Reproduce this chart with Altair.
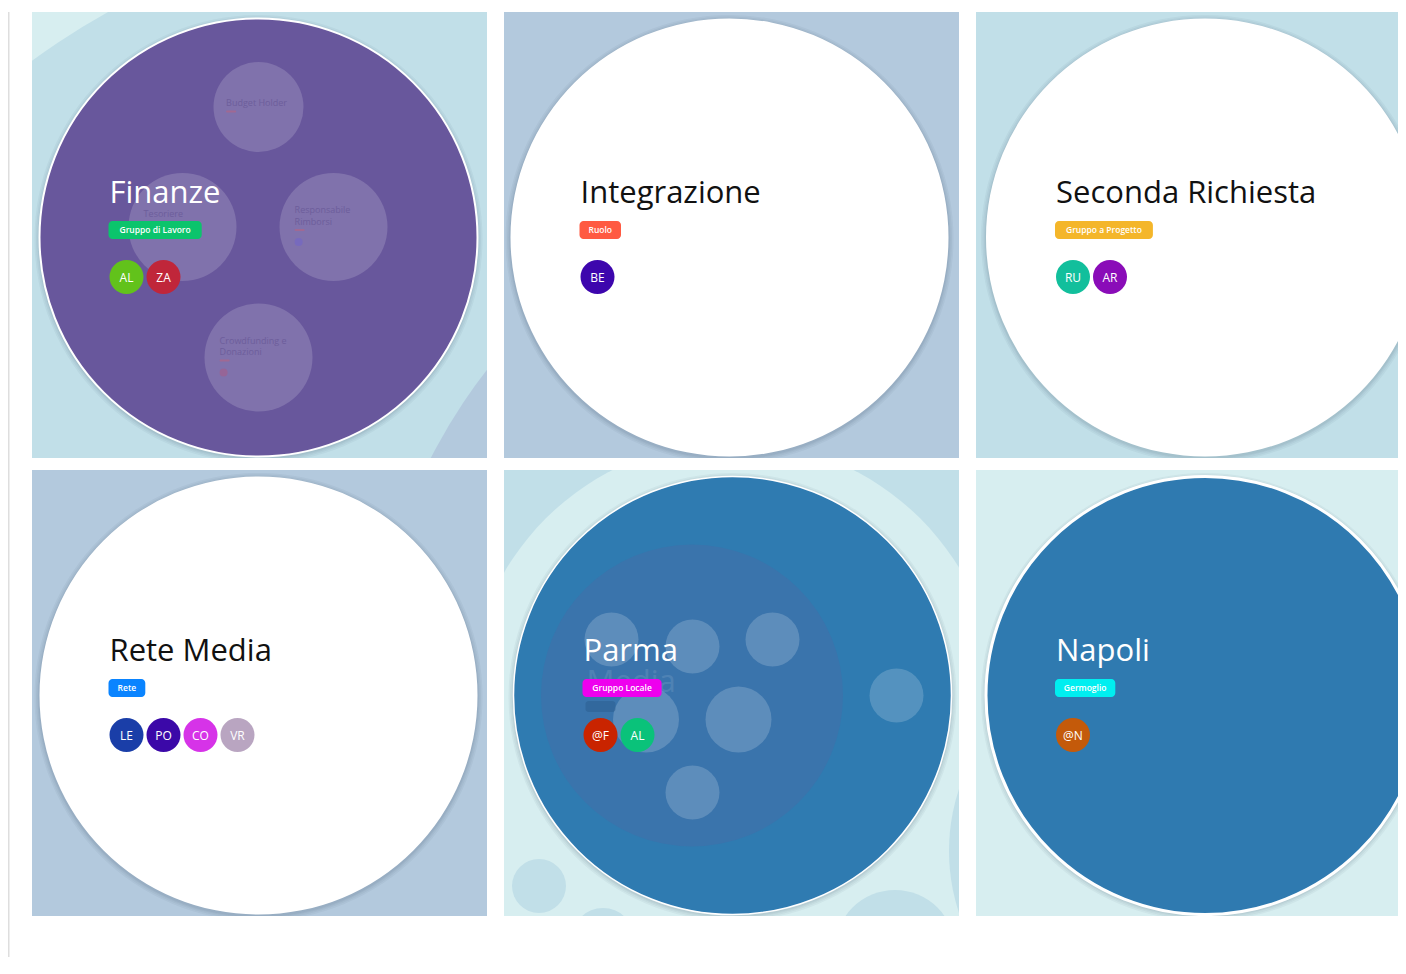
import math
import altair as alt
import pandas as pd

# ---------------- values ----------------
titles = ["Finanze", "Integrazione", "Seconda Richiesta", "Rete Media", "Parma", "Napoli"]
tags = ["Gruppo di Lavoro", "Ruolo", "Gruppo a Progetto", "Rete", "Gruppo Locale", "Germoglio"]
tag_colors = ["#0bc46c", "#ff5a42", "#f4b62a", "#0a84ff", "#ee00ee", "#00eef0"]
circle_fills = ["#68579c", "#ffffff", "#ffffff", "#ffffff", "#2f7bb1", "#2f7ab0"]
title_colors = ["#ffffff", "#111111", "#111111", "#111111", "#ffffff", "#ffffff"]
panel_bgs = ["#d7eef0", "#b3c9dd", "#c1dfe8", "#b3c9dd", "#c1dfe8", "#d7eef0"]
members = [["AL", "ZA"], ["BE"], ["RU", "AR"], ["LE", "PO", "CO", "VR"], ["@F", "AL"], ["@N"]]
member_colors = [
    ["#62c21b", "#c0263a"],
    ["#3d06ad"],
    ["#12bf9c", "#8a0cb8"],
    ["#1a3ea8", "#3b08a8", "#d633e8", "#b9a5c1"],
    ["#c92400", "#0ac27a"],
    ["#c45a0a"],
]
circle_cx = [226.5, 225.5, 229.0, 226.5, 228.5, 229.0]
circle_border = [2.0, 0.0, 0.0, 0.0, 1.5, 3.0]

# parent / sibling circles visible behind each focused circle (panel-local)
bg_circle_x = [[420, 880], [], [], [], [229, 229, 35, 99, 391, 642], []]
bg_circle_y = [[620, 691], [], [], [], [236, 900, 416, 469, 480, 381], []]
bg_circle_r = [[709, 540], [], [], [], [265, 700, 27, 31, 60, 197], []]
bg_circle_c = [["#c1dfe8", "#b3c9dd"], [], [], [],
               ["#d7eef0", "#d7eef0", "#c1dfe8", "#c1dfe8", "#c1dfe8", "#c1dfe8"], []]

# Finanze: child role circles (offsets from the focused circle centre)
finanze_roles = [["Budget Holder"], ["Tesoriere"], ["Responsabile", "Rimborsi"], ["Crowdfunding e", "Donazioni"]]
finanze_role_dx = [0, -76, 75, 0]
finanze_role_dy = [-130.5, -10.5, -10.5, 120]
finanze_role_r = [45, 54, 54, 54]
finanze_label_dy = [-4, -13, -17, -17]
finanze_role_member = ["", "", "#7466c4", "#a0608e"]

# Parma: child circles
parma_inner_dx, parma_inner_dy, parma_inner_r = -40.5, 0, 151
parma_bubble_dx = [-121, -40, 40, -86.5, 6, -40, 164]
parma_bubble_dy = [-56, -49, -56, 24, 24, 97, 0]
parma_bubble_r = [27, 27, 27, 33, 33, 27, 27]

# ---------------- layout ----------------
PANEL_W = 455
LAST_W = 422
PANEL_H = 446
R_MAIN = 219
CY = 225.5
FONT = "Open Sans"
TITLE_Y = 190.5
TAG_Y0, TAG_Y1 = 209, 227
AVATAR_Y = 265
AVATAR_R = 17
AVATAR_STEP = 37


def circ(rows):
    df = pd.DataFrame(rows, columns=["x", "y", "r", "fill", "op", "stroke", "sw"])
    # Vega symbol size is the area of the bounding square: (2r)^2
    df["s"] = (2 * df["r"]) ** 2
    df["k"] = range(len(df))
    return df


def circle_layer(df, xs, ys):
    return alt.Chart(df).mark_circle(clip=True).encode(
        x=alt.X("x:Q", scale=xs, axis=None),
        y=alt.Y("y:Q", scale=ys, axis=None),
        size=alt.Size("s:Q", scale=None, legend=None),
        color=alt.Color("fill:N", scale=None),
        opacity=alt.Opacity("op:Q", scale=None),
        stroke=alt.Stroke("stroke:N", scale=None),
        strokeWidth=alt.StrokeWidth("sw:Q", scale=None),
        order=alt.Order("k:Q"),
    )


def rect_layer(rows, xs, ys, radius=0):
    df = pd.DataFrame(rows, columns=["x", "x2", "y", "y2", "c", "op"])
    return alt.Chart(df).mark_rect(clip=True, cornerRadius=radius).encode(
        x=alt.X("x:Q", scale=xs, axis=None), x2="x2:Q",
        y=alt.Y("y:Q", scale=ys, axis=None), y2="y2:Q",
        color=alt.Color("c:N", scale=None),
        opacity=alt.Opacity("op:Q", scale=None),
    )


def text_layer(rows, xs, ys, **kw):
    df = pd.DataFrame(rows, columns=["x", "y", "t", "c", "op"])
    return alt.Chart(df).mark_text(clip=True, font=FONT, **kw).encode(
        x=alt.X("x:Q", scale=xs, axis=None),
        y=alt.Y("y:Q", scale=ys, axis=None),
        text="t:N",
        color=alt.Color("c:N", scale=None),
        opacity=alt.Opacity("op:Q", scale=None),
    )


def build_panel(i):
    col = i % 3
    w = LAST_W if col == 2 else PANEL_W
    xs = alt.Scale(domain=[0, w], nice=False, zero=False)
    ys = alt.Scale(domain=[0, PANEL_H], nice=False, zero=False, reverse=True)
    cx, cy = circle_cx[i], CY
    tx = cx - 149
    layers = [rect_layer([(0, w, 0, PANEL_H, panel_bgs[i], 1.0)], xs, ys)]

    rows = []
    for bx, by, br, bc in zip(bg_circle_x[i], bg_circle_y[i], bg_circle_r[i], bg_circle_c[i]):
        rows.append((bx, by, br, bc, 1.0, "transparent", 0))
    for extra in (5, 3.5, 2, 1):
        rows.append((cx, cy + 1.5, R_MAIN + extra, "#1b2a3a", 0.045, "transparent", 0))
    sw = circle_border[i]
    rows.append((cx, cy, R_MAIN, circle_fills[i], 1.0, "#ffffff" if sw else "transparent", sw))

    ghost_text, ghost_rect, ghost_big = [], [], []
    if i == 0:
        for lines, dx, dy, r, ldy, mc in zip(finanze_roles, finanze_role_dx, finanze_role_dy,
                                             finanze_role_r, finanze_label_dy, finanze_role_member):
            rx, ry = cx + dx, cy + dy
            rows.append((rx, ry, r, "#ffffff", 0.16, "transparent", 0))
            lx = rx - 0.72 * r
            for j, line in enumerate(lines):
                ghost_text.append((lx, ry + ldy + 11.5 * j, line, "#5e4e8e", 0.55))
            dash_y = ry + ldy + 11.5 * (len(lines) - 1) + 8.5
            ghost_rect.append((lx, lx + 10, dash_y - 1, dash_y + 1, "#c0607a", 0.5))
            if mc:
                rows.append((lx + 4, dash_y + 12, 4, mc, 0.7, "transparent", 0))
    if i == 4:
        rows.append((cx + parma_inner_dx, cy + parma_inner_dy, parma_inner_r, "#3a74ac", 1.0, "transparent", 0))
        for dx, dy, r in zip(parma_bubble_dx, parma_bubble_dy, parma_bubble_r):
            rows.append((cx + dx, cy + dy, r, "#ffffff", 0.18, "transparent", 0))
        ghost_big.append((tx + 3, cy - 4, "Media", "#ffffff", 0.10))
        ghost_rect.append((tx + 2, tx + 32, 231, 242, "#2a5a8c", 0.45))

    layers.append(circle_layer(circ(rows), xs, ys))
    if ghost_text:
        layers.append(text_layer(ghost_text, xs, ys, align="left", baseline="middle", fontSize=9))
    if ghost_big:
        layers.append(text_layer(ghost_big, xs, ys, align="left", baseline="alphabetic", fontSize=31))
    if ghost_rect:
        layers.append(rect_layer(ghost_rect, xs, ys, radius=3))

    # title
    layers.append(text_layer([(tx, TITLE_Y, titles[i], title_colors[i], 1.0)], xs, ys,
                             align="left", baseline="alphabetic", fontSize=31, fontWeight=500))
    # tag badge
    tag_w = 18 + 4.7 * len(tags[i])
    layers.append(rect_layer([(tx - 1, tx - 1 + tag_w, TAG_Y0, TAG_Y1, tag_colors[i], 1.0)], xs, ys, radius=4))
    layers.append(text_layer([(tx - 1 + tag_w / 2, (TAG_Y0 + TAG_Y1) / 2, tags[i], "#ffffff", 1.0)], xs, ys,
                             align="center", baseline="middle", fontSize=8.5, fontWeight=600))
    # members
    av_rows, av_text = [], []
    for j, (m, mc) in enumerate(zip(members[i], member_colors[i])):
        ax = tx + AVATAR_R + AVATAR_STEP * j
        av_rows.append((ax, AVATAR_Y, AVATAR_R, mc, 1.0, "transparent", 0))
        av_text.append((ax, AVATAR_Y + 0.5, m, "#ffffff", 1.0))
    layers.append(circle_layer(circ(av_rows), xs, ys))
    layers.append(text_layer(av_text, xs, ys, align="center", baseline="middle", fontSize=12))

    return alt.layer(*layers).properties(width=w, height=PANEL_H)


panels = [build_panel(i) for i in range(6)]
row1 = alt.hconcat(*panels[:3], spacing=17)
row2 = alt.hconcat(*panels[3:], spacing=17)
grid = alt.vconcat(row1, row2, spacing=12)

line_view = alt.Chart(pd.DataFrame({"a": [0]})).mark_rule(color="#dedede", strokeWidth=1.5).encode(
    x=alt.value(0.75), y=alt.value(0), y2=alt.value(945)
).properties(width=1, height=945)

chart = alt.hconcat(line_view, grid, spacing=22).properties(
    padding={"left": 0, "top": 3, "right": 0, "bottom": 0},
    background="#ffffff",
).configure_view(stroke=None)

chart.save("out.html", embed_options={"renderer": "svg", "actions": False})
